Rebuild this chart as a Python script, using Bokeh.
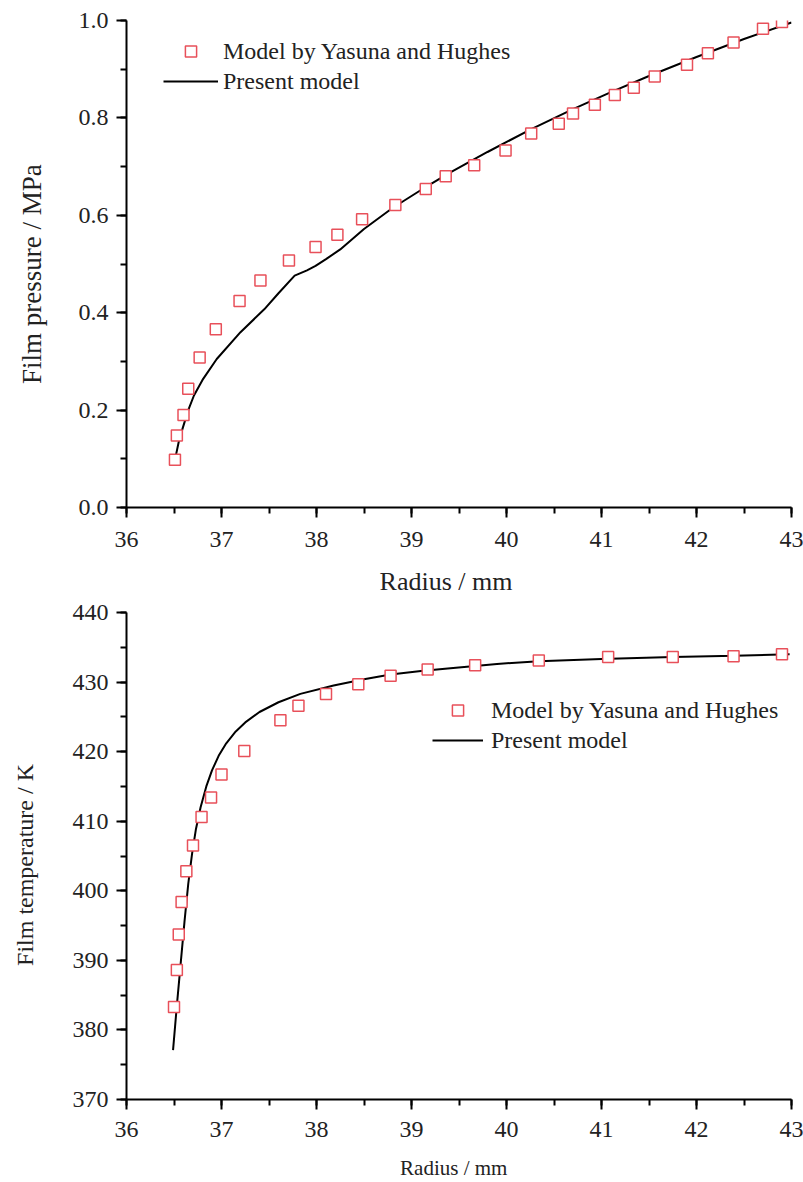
from bokeh.plotting import figure
from bokeh.layouts import column
from bokeh.models import (Range1d, SingleIntervalTicker, PrintfTickFormatter,
                          Legend, LegendItem)
from bokeh.embed import file_html
from bokeh.resources import INLINE

# ---------------- data: film pressure ----------------
yh_radius_p = [36.51, 36.53, 36.60, 36.65, 36.77, 36.94, 37.19, 37.41, 37.71, 37.99,
               38.22, 38.48, 38.83, 39.15, 39.36, 39.66, 39.99, 40.26, 40.55, 40.70,
               40.93, 41.14, 41.34, 41.56, 41.90, 42.12, 42.39, 42.70, 42.90]
yh_pressure = [0.098, 0.148, 0.190, 0.244, 0.308, 0.366, 0.424, 0.466, 0.507, 0.535,
               0.560, 0.592, 0.621, 0.654, 0.680, 0.703, 0.733, 0.768, 0.788, 0.809,
               0.827, 0.847, 0.862, 0.885, 0.909, 0.933, 0.955, 0.983, 0.997]

pm_radius_p = [36.52, 36.55, 36.59, 36.65, 36.71, 36.80, 36.95, 37.20, 37.45, 37.60,
               37.77, 37.90, 37.99, 38.10, 38.25, 38.50, 38.80, 39.10, 39.40, 39.80,
               40.25, 40.70, 41.10, 41.50, 42.00, 42.50, 43.00]
pm_pressure = [0.107, 0.135, 0.162, 0.200, 0.230, 0.262, 0.305, 0.360, 0.407, 0.440,
               0.476, 0.487, 0.496, 0.510, 0.530, 0.572, 0.615, 0.652, 0.687, 0.730,
               0.776, 0.818, 0.853, 0.886, 0.925, 0.962, 0.996]

# ---------------- data: film temperature ----------------
yh_radius_t = [36.50, 36.53, 36.55, 36.58, 36.63, 36.70, 36.79, 36.89, 37.00, 37.24,
               37.62, 37.81, 38.10, 38.44, 38.78, 39.17, 39.67, 40.34, 41.07, 41.75,
               42.39, 42.90]
yh_temp = [383.3, 388.6, 393.7, 398.4, 402.8, 406.5, 410.6, 413.4, 416.7, 420.1,
           424.5, 426.6, 428.3, 429.7, 430.9, 431.8, 432.4, 433.1, 433.6, 433.6,
           433.7, 434.0]

pm_radius_t = [36.49, 36.53, 36.57, 36.61, 36.65, 36.69, 36.73, 36.78, 36.84, 36.90,
               36.97, 37.05, 37.15, 37.25, 37.40, 37.60, 37.83, 38.18, 38.50, 38.78,
               39.10, 39.41, 39.90, 40.34, 41.00, 41.75, 42.40, 42.98]
pm_temp = [377.1, 383.5, 389.5, 395.5, 401.0, 405.3, 408.8, 412.0, 415.0, 417.3,
           419.4, 421.2, 422.9, 424.2, 425.7, 427.1, 428.3, 429.5, 430.4, 431.1,
           431.6, 432.0, 432.6, 433.0, 433.3, 433.6, 433.8, 434.0]

label_yh = "Model by Yasuna and Hughes"
label_pm = "Present model"

FONT = "Liberation Serif"
TXT = "#222222"
SQ = "#e8505a"


def style_axes(p):
    for ax in (p.xaxis[0], p.yaxis[0]):
        ax.axis_line_width = 2
        ax.axis_line_color = "black"
        ax.major_tick_line_width = 2
        ax.minor_tick_line_width = 2
        ax.major_tick_out = 10
        ax.major_tick_in = 0
        ax.minor_tick_out = 6
        ax.minor_tick_in = 0
        ax.major_label_text_font = FONT
        ax.major_label_text_font_size = "24px"
        ax.major_label_text_color = TXT
        ax.axis_label_text_font = FONT
        ax.axis_label_text_font_style = "normal"
        ax.axis_label_text_color = TXT
    p.xgrid.visible = False
    p.ygrid.visible = False
    p.outline_line_color = None


def add_legend(p, sq, ln, loc, gw, standoff):
    leg = Legend(items=[LegendItem(label=label_yh, renderers=[sq]),
                        LegendItem(label=label_pm, renderers=[ln])],
                 location=loc, orientation="vertical")
    leg.glyph_width = gw
    leg.glyph_height = 28
    leg.label_height = 28
    leg.spacing = 2
    leg.padding = 0
    leg.margin = 0
    leg.label_standoff = standoff
    leg.border_line_alpha = 0
    leg.background_fill_alpha = 0
    leg.label_text_font = FONT
    leg.label_text_font_size = "24px"
    leg.label_text_color = TXT
    p.add_layout(leg)


# ---------------- top: pressure ----------------
p1 = figure(width=803, height=598, x_range=Range1d(36, 43), y_range=Range1d(0, 1.0),
            output_backend="svg", toolbar_location=None, title=None,
            min_border_left=126, min_border_right=12, min_border_top=20,
            min_border_bottom=89)
ln1 = p1.line(pm_radius_p, pm_pressure, line_color="black", line_width=2)
sq1 = p1.scatter(yh_radius_p, yh_pressure, marker="square", size=11,
                 line_color=SQ, line_width=1.5, fill_color="white")
style_axes(p1)
p1.xaxis.ticker = SingleIntervalTicker(interval=1, num_minor_ticks=2)
p1.yaxis.ticker = SingleIntervalTicker(interval=0.2, num_minor_ticks=2)
p1.yaxis.formatter = PrintfTickFormatter(format="%.1f")
p1.xaxis.axis_label = "Radius    /  mm"
p1.yaxis.axis_label = "Film pressure   /  MPa"
p1.xaxis.axis_label_text_font_size = "26px"
p1.yaxis.axis_label_text_font_size = "27px"
p1.xaxis.major_label_standoff = 14
p1.yaxis.major_label_standoff = 8
p1.xaxis.axis_label_standoff = 17
p1.yaxis.axis_label_standoff = 29
add_legend(p1, sq1, ln1, (37, 412), 55, 5)

# ---------------- bottom: temperature ----------------
p2 = figure(width=803, height=584, x_range=Range1d(36, 43), y_range=Range1d(370, 440),
            output_backend="svg", toolbar_location=None, title=None,
            min_border_left=126, min_border_right=12, min_border_top=14,
            min_border_bottom=83)
ln2 = p2.line(pm_radius_t, pm_temp, line_color="black", line_width=2)
sq2 = p2.scatter(yh_radius_t, yh_temp, marker="square", size=11,
                 line_color=SQ, line_width=1.5, fill_color="white")
style_axes(p2)
p2.xaxis.ticker = SingleIntervalTicker(interval=1, num_minor_ticks=2)
p2.yaxis.ticker = SingleIntervalTicker(interval=10, num_minor_ticks=2)
p2.xaxis.axis_label = "Radius  /  mm"
p2.yaxis.axis_label = "Film temperature   /  K"
p2.xaxis.axis_label_text_font_size = "21px"
p2.yaxis.axis_label_text_font_size = "24px"
p2.xaxis.major_label_standoff = 12
p2.yaxis.major_label_standoff = 8
p2.xaxis.axis_label_standoff = 16
p2.yaxis.axis_label_standoff = 32
add_legend(p2, sq2, ln2, (306, 345), 51, 8)

layout = column(p1, p2, spacing=0)
open("out.html", "w").write(file_html(layout, INLINE))
